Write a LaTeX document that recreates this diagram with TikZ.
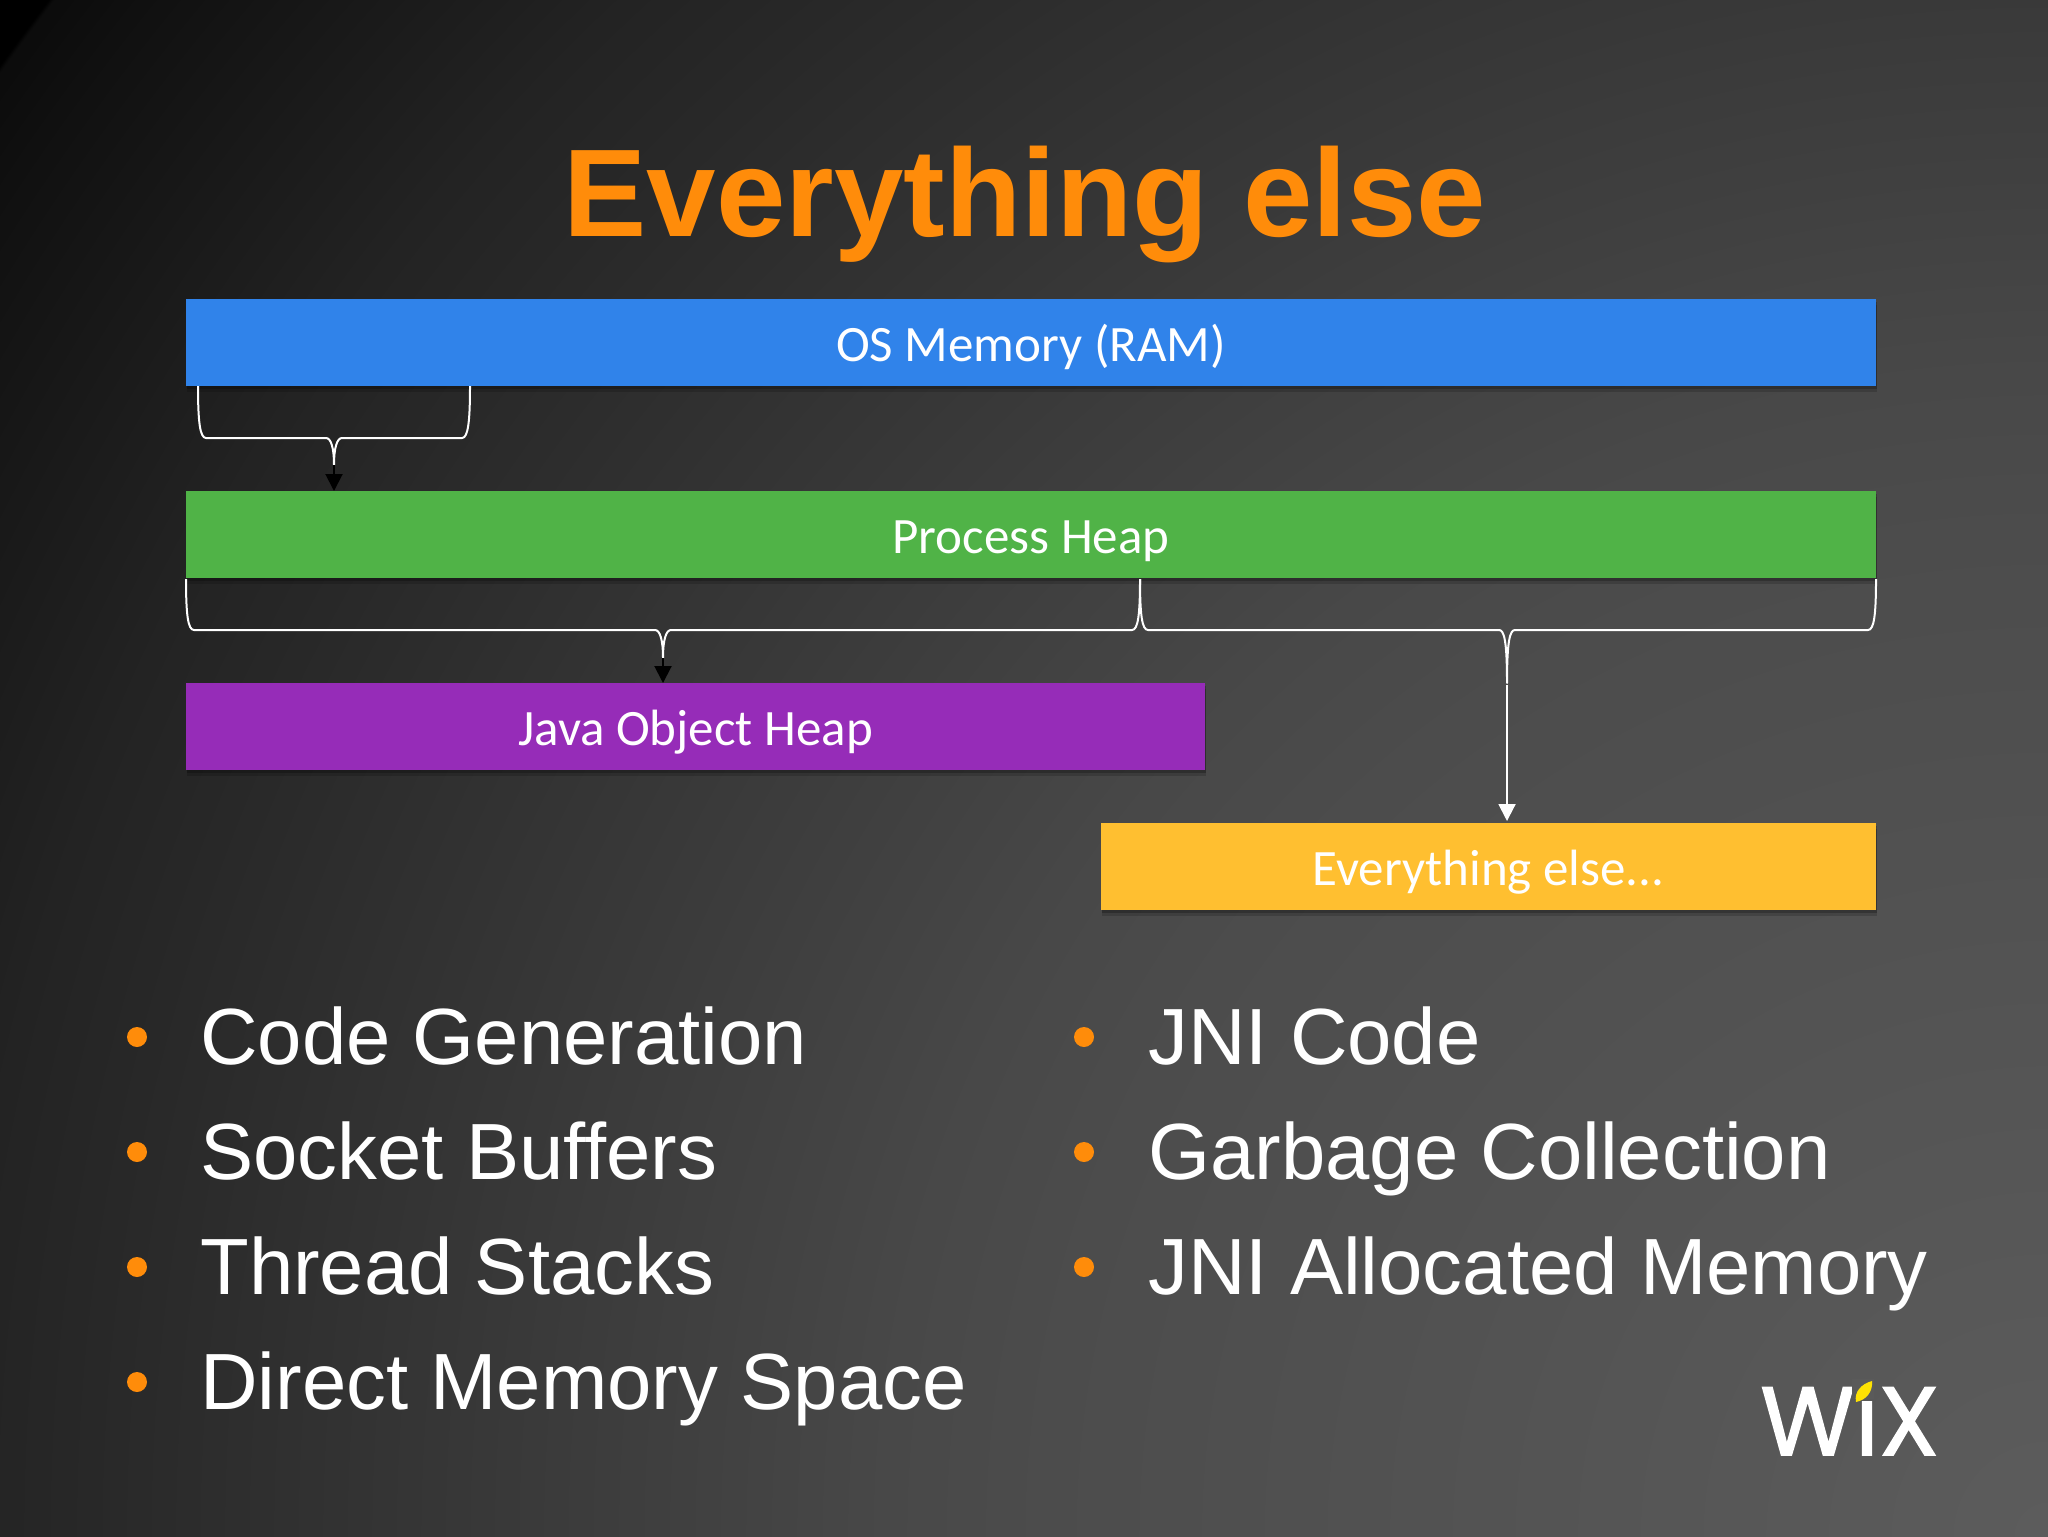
\documentclass[tikz,border=0pt]{standalone}
\usepackage{fontspec}
\setmainfont{Liberation Sans}
\newfontfamily\barfont{Carlito}
\newfontfamily\logofont[FakeBold=1.6]{Poppins}
\usetikzlibrary{arrows.meta,shadows}
\definecolor{titleorange}{HTML}{FF8C0A}
\definecolor{barblue}{HTML}{3083EA}
\definecolor{bargreen}{HTML}{50B347}
\definecolor{barpurple}{HTML}{962CB8}
\definecolor{baryellow}{HTML}{FFBF30}
\definecolor{logobg}{HTML}{5A5A5A}
\pgfdeclareradialshading{bgshade}{\pgfpoint{0bp}{0bp}}{
 rgb(0bp)=(0.361,0.361,0.361);
 rgb(62bp)=(0.353,0.353,0.353);
 rgb(500bp)=(0.298,0.298,0.298);
 rgb(580bp)=(0.282,0.282,0.282);
 rgb(732bp)=(0.235,0.235,0.235);
 rgb(975bp)=(0.157,0.157,0.157);
 rgb(1042bp)=(0.137,0.137,0.137);
 rgb(1218bp)=(0.063,0.063,0.063);
 rgb(1254bp)=(0.045,0.045,0.045);
 rgb(1256bp)=(0,0,0);
 rgb(1300bp)=(0,0,0)}
\tikzset{
 membar/.style={anchor=north west,inner sep=0pt,outer sep=0pt,text=white,text height=18.6pt,text depth=0pt,
   font=\barfont\fontsize{25.5}{28}\selectfont,
   drop shadow={shadow xshift=0.5pt,shadow yshift=-1.5pt,opacity=.22,fill=black},
   drop shadow={shadow xshift=0.5pt,shadow yshift=-3pt,opacity=.16,fill=black}},
 bracket/.style={draw=white,line width=1pt,line join=round},
 darkarrow/.style={draw=black,line width=1pt,-{Triangle[length=8.5pt,width=8.5pt]}},
 whitearrow/.style={draw=white,line width=1pt,-{Triangle[length=8.5pt,width=8.5pt]}},
 bulletdot/.style={circle,fill=titleorange,inner sep=0pt,minimum size=10pt},
 itemtext/.style={anchor=base west,inner sep=0pt,text=white,font=\fontsize{39.85}{46}\selectfont},
}
\newcommand{\bracepath}[6]{% left, right, top y, mid y, tip x, tip y
 \draw[bracket] (#1,#3) .. controls (#1,#3+36) and (#1+2,#4) .. (#1+8,#4) -- (#5-8,#4)
   .. controls (#5-3,#4) and (#5,#4+10) .. (#5,#6)
   .. controls (#5,#4+10) and (#5+3,#4) .. (#5+8,#4) -- (#2-8,#4)
   .. controls (#2-2,#4) and (#2,#3+36) .. (#2,#3);}
\begin{document}
\begin{tikzpicture}[x=0.5pt,y=-0.5pt]
\useasboundingbox (0,0) rectangle (2048,1536);
\begin{scope}
 \clip (0,0) rectangle (2048,1536);
 \node[inner sep=0pt] (bgfill) at (2048,1536) {\pgfuseshading{bgshade}};
\end{scope}
\node[anchor=base,inner sep=0pt,text=titleorange,font=\bfseries\fontsize{62.4}{70}\selectfont] (title) at (1025,236) {Everything else};

\node[membar,fill=barblue,minimum width=845pt,minimum height=43.5pt] (os) at (186,299) {OS Memory (RAM)};
\node[membar,fill=bargreen,minimum width=845pt,minimum height=43.5pt] (proc) at (186,491) {Process Heap};
\node[membar,fill=barpurple,minimum width=509.5pt,minimum height=43.5pt] (java) at (186,683) {Java Object Heap};
\node[membar,fill=baryellow,minimum width=387.5pt,minimum height=43.5pt] (rest) at (1101,823) {Everything else...};

\bracepath{198}{470}{386}{438}{334}{465}
\coordinate (t1) at (334,465);
\draw[darkarrow] (t1) -- (t1 |- proc.north);
\bracepath{186}{1140}{579}{630}{663}{658}
\coordinate (t2) at (663,658);
\draw[darkarrow] (t2) -- (t2 |- java.north);
\bracepath{1140}{1876}{579}{630}{1507}{683}
\coordinate (t3) at (1507,685);
\coordinate (t3e) at (1507,821);
\draw[whitearrow] (t3) -- (t3e);

\node[bulletdot] (b1) at (137,1037) {};
\node[bulletdot] (b2) at (137,1152) {};
\node[bulletdot] (b3) at (137,1267) {};
\node[bulletdot] (b4) at (137,1382) {};
\node[bulletdot] (b5) at (1084,1037) {};
\node[bulletdot] (b6) at (1084,1152) {};
\node[bulletdot] (b7) at (1084,1267) {};
\node[itemtext] (i1) at (200,1064.5) {Code Generation};
\node[itemtext] (i2) at (200,1179.5) {Socket Buffers};
\node[itemtext] (i3) at (200,1294.5) {Thread Stacks};
\node[itemtext] (i4) at (200,1409.5) {Direct Memory Space};
\node[itemtext] (i5) at (1148,1064.5) {JNI Code};
\node[itemtext] (i6) at (1148,1179.5) {Garbage Collection};
\node[itemtext] (i7) at (1148,1294.5) {JNI Allocated Memory};

\node[anchor=base west,inner sep=0pt,text=white,font=\logofont\fontsize{48.5}{50}\selectfont] (logo) at (1760,1455) {WiX};
\fill[logobg] (1852,1379) rectangle (1874,1399);
\fill[yellow!85!orange] (1856,1402) .. controls (1854,1392) and (1861,1384) .. (1872,1381) .. controls (1873,1392) and (1866,1400) .. (1856,1402) -- cycle;
\end{tikzpicture}
\end{document}
